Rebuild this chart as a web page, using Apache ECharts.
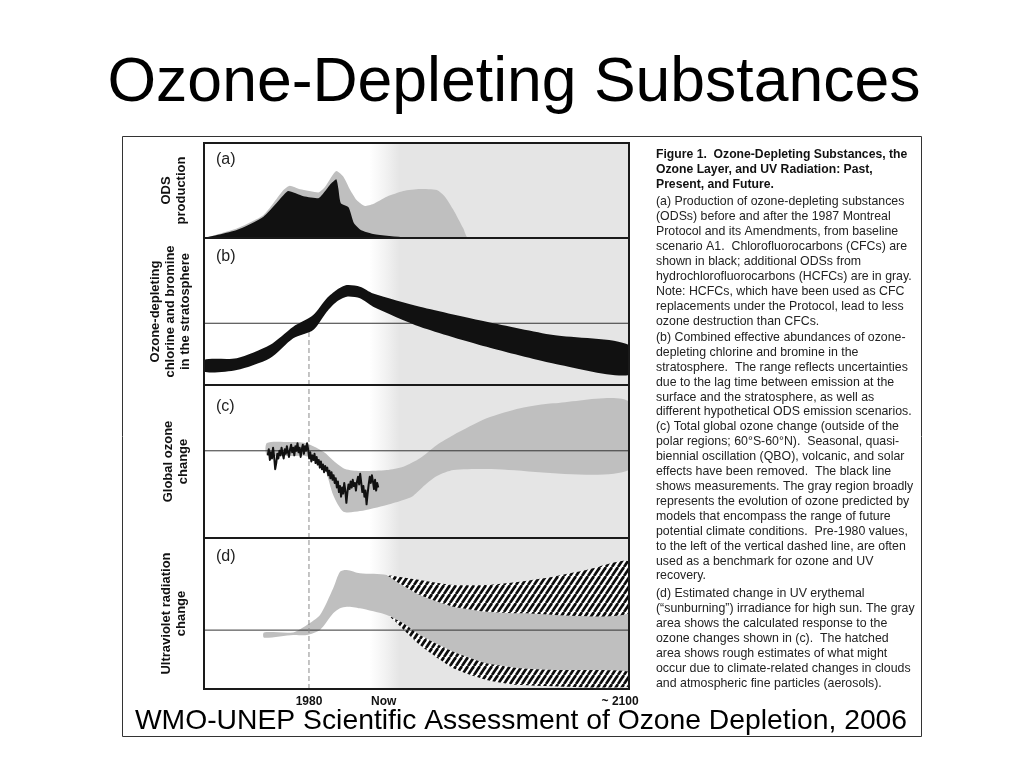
<!DOCTYPE html>
<html><head><meta charset="utf-8">
<script src="https://cdn.jsdelivr.net/npm/echarts@6/dist/echarts.min.js"></script>
<style>html,body{margin:0;padding:0;background:#fff}#c{width:1024px;height:768px}</style>
</head><body><div id="c"></div>
<script>
// ---------- DATA (x = schematic time index 0..100, y = relative units 0..100) ----------
const xTickValues = [24.7, 42.3, 97.9];
const xTickLabels = ['1980', 'Now', '~ 2100'];
const year1980 = 24.7;
const futureShadeStart = 39, futureShadeFull = 46;

// (a) ODS production
const odsTotal = [[0,0],[7.7,10],[14,24.2],[18.7,50.5],[20.2,55],[22.6,51.2],[26.9,48],[28.5,54],[31.2,70.5],[32.8,64.5],[34.4,50.5],[35.9,40],[37.9,33.7],[39.8,35.8],[43,43.5],[46.9,49.5],[50.8,51.6],[54.8,50.5],[56.7,43.5],[58.7,29.5],[61,10.2],[62.2,0],[100,0]];
const odsCFC = [[0,0],[7.7,8.4],[14,22.4],[19.1,47],[19.8,49.5],[23.4,44],[26.9,41.8],[28.1,47],[29.6,55.8],[31.1,61.8],[31.6,52.3],[32.2,36.5],[34,32.3],[35.3,15.4],[36.9,8.4],[39.8,4.2],[47.4,0.5],[50,0],[100,0]];

// (b) effective chlorine + bromine (range)
const halogenUpper = [[0,17],[7.7,18.2],[15.5,27.2],[21,39.7],[25.7,47.6],[28.9,59],[31.2,64.6],[33.6,68],[36.7,66.9],[39.8,62.3],[50.8,53.3],[66.5,43.1],[82.2,34],[100,27.2]];
const halogenLower = [[0,9],[7.7,10.2],[15.5,18.2],[21,31.8],[25.7,37.4],[28.9,49.9],[31.2,56.7],[33.6,60.1],[36.7,59],[39.8,53.3],[50.8,39.7],[66.5,26],[82.2,14.7],[100,6.8]];
const halogenRef = 42;

// (c) global ozone change
const ozoneModelUpper = [[14.8,62.1],[20.2,62.7],[23.8,62.1],[26.1,59.5],[28.5,55.6],[30.8,49.7],[33.2,45.1],[36.7,43.8],[43,44.4],[46.9,46.6],[50.8,52.1],[54.8,60.8],[58.7,67.3],[66.5,78.2],[74.4,84.8],[82.2,88],[100,89.1]];
const ozoneModelLower = [[14.8,54.2],[20.2,53.6],[23.8,53.6],[26.1,51],[28.5,44.4],[30.4,28.1],[32.8,17.2],[36.7,17.6],[43,21.6],[46.9,24.8],[49.2,27.5],[52,34.6],[54.8,40.5],[58.7,44.4],[66.5,45.1],[100,44.4]];
const ozoneObsX = [15.0,15.25,15.5,15.75,16.0,16.25,16.5,16.75,17.0,17.25,17.5,17.75,18.0,18.25,18.5,18.75,19.0,19.25,19.5,19.75,20.0,20.25,20.5,20.75,21.0,21.25,21.5,21.75,22.0,22.25,22.5,22.75,23.0,23.25,23.5,23.75,24.0,24.25,24.5,24.75,25.0,25.25,25.5,25.75,26.0,26.25,26.5,26.75,27.0,27.25,27.5,27.75,28.0,28.25,28.5,28.75,29.0,29.25,29.5,29.75,30.0,30.25,30.5,30.75,31.0,31.25,31.5,31.75,32.0,32.25,32.5,32.75,33.0,33.25,33.5,33.75,34.0,34.25,34.5,34.75,35.0,35.25,35.5,35.75,36.0,36.25,36.5,36.75,37.0,37.25,37.5,37.75,38.0,38.25,38.5,38.75,39.0,39.25,39.5,39.75,40.0,40.25,40.5,40.75,41.0];
const ozoneObs = [54,58,51,56,52,59,53,45,49,55,52,57,54,59,55,52,58,55,60,56,53,58,61,56,59,54,60,57,62,56,59,53,58,61,55,60,57,62,58,52,56,50,54,51,55,49,53,48,51,46,50,45,48,43,47,44,46,41,44,39,43,38,41,36,39,33,37,30,34,27,33,29,36,31,23,30,35,32,37,33,38,34,36,31,37,40,35,42,36,30,34,27,31,22,29,35,40,36,41,37,32,38,31,36,33];
const ozoneRef = 57;

// (d) UV change
const uvModelUpper = [[14.1,37.5],[21,37.5],[24.2,42.4],[27.3,49],[30.4,66.7],[32,77.7],[33.6,78.8],[36.7,76.6],[43,75.5],[45.3,71.1],[50.8,62.3],[58.7,54.5],[66.5,51.2],[74.4,50.1],[100,50.1]];
const uvModelLower = [[14.1,34],[21,35.8],[24.2,35.8],[27.3,39.1],[30.4,50.1],[32,53.4],[33.6,54.5],[36.7,53.4],[43,49],[46.9,43.5],[50.8,35.8],[58.7,24.7],[66.5,17],[74.4,13.7],[82.2,12.6],[100,11.5]];
const uvCloudHighTop = [[43,75.5],[50.8,72.2],[58.7,68.9],[66.5,68.9],[74.4,71.1],[82.2,74.4],[90,78.8],[100,84.3]];
const uvCloudHighBottom = [[43,75.5],[45.3,71.1],[50.8,62.3],[58.7,54.5],[66.5,51.2],[74.4,50.1],[100,50.1]];
const uvCloudLowTop = [[43.5,48.5],[46.9,43.5],[50.8,35.8],[58.7,24.7],[66.5,17],[74.4,13.7],[82.2,12.6],[100,11.5]];
const uvCloudLowBottom = [[43.5,48.5],[44.5,46],[50.8,29.1],[58.7,13.7],[66.5,6],[74.4,2.6],[100,1.5]];
const uvRef = 39;

const yNames = ['ODS\nproduction', 'Ozone-depleting\nchlorine and bromine\nin the stratosphere', 'Global ozone\nchange', 'Ultraviolet radiation\nchange'];
const panelTags = ['(a)', '(b)', '(c)', '(d)'];

const captionTitle = ['Figure 1.  Ozone-Depleting Substances, the', 'Ozone Layer, and UV Radiation: Past,', 'Present, and Future.'];
const captionParas = [
 ['(a) Production of ozone-depleting substances','(ODSs) before and after the 1987 Montreal','Protocol and its Amendments, from baseline','scenario A1.  Chlorofluorocarbons (CFCs) are','shown in black; additional ODSs from','hydrochlorofluorocarbons (HCFCs) are in gray.','Note: HCFCs, which have been used as CFC','replacements under the Protocol, lead to less','ozone destruction than CFCs.'],
 ['(b) Combined effective abundances of ozone-','depleting chlorine and bromine in the','stratosphere.  The range reflects uncertainties','due to the lag time between emission at the','surface and the stratosphere, as well as','different hypothetical ODS emission scenarios.'],
 ['(c) Total global ozone change (outside of the','polar regions; 60°S-60°N).  Seasonal, quasi-','biennial oscillation (QBO), volcanic, and solar','effects have been removed.  The black line','shows measurements. The gray region broadly','represents the evolution of ozone predicted by','models that encompass the range of future','potential climate conditions.  Pre-1980 values,','to the left of the vertical dashed line, are often','used as a benchmark for ozone and UV','recovery.'],
 ['(d) Estimated change in UV erythemal','(\u201csunburning\u201d) irradiance for high sun. The gray','area shows the calculated response to the','ozone changes shown in (c).  The hatched','area shows rough estimates of what might','occur due to climate-related changes in clouds','and atmospheric fine particles (aerosols).']
];

// ---------- LAYOUT / STYLE ----------
const FONT = '"Liberation Sans", Arial, Helvetica, sans-serif';
const GRAY = '#bfbfbf', SHADE = '#e5e5e5', BLACK = '#111';
const grids = [
  {left:204, top:143, width:425, height:95},
  {left:204, top:238, width:425, height:147},
  {left:204, top:385, width:425, height:153},
  {left:204, top:538, width:425, height:151}
];
const yGaps = [15, 11, 13, 15];

function makeHatch(){
  const w = 6, h = 9;
  const c = document.createElement('canvas'); c.width = w; c.height = h;
  const g = c.getContext('2d');
  g.fillStyle = '#fff'; g.fillRect(0,0,w,h);
  g.strokeStyle = '#0d0d0d'; g.lineWidth = 2.7;
  for (const dx of [-w,0,w]) { g.beginPath(); g.moveTo(dx,h); g.lineTo(dx+w,0); g.stroke(); }
  return c;
}
const hatchFill = {image: makeHatch(), repeat: 'repeat'};

function polySeries(gi, top, bottom, fill, z, smooth){
  return {type:'custom', xAxisIndex:gi, yAxisIndex:gi, z, clip:true, silent:true,
    data: top.concat(bottom),
    renderItem: (params, api) => {
      if (params.dataIndex !== 0) return null;
      const pts = top.map(p => api.coord(p)).concat(bottom.slice().reverse().map(p => api.coord(p)));
      return {type:'polygon', shape:{points:pts, smooth: smooth || 0}, style:{fill: fill, stroke: null}};
    }};
}
function shadeSeries(gi){
  return {type:'custom', xAxisIndex:gi, yAxisIndex:gi, z:1, silent:true, clip:true,
    data:[[futureShadeStart,0],[100,100]],
    renderItem:(params, api) => {
      if (params.dataIndex !== 0) return null;
      const a = api.coord([futureShadeStart,100]), b = api.coord([100,0]);
      const f = (futureShadeFull - futureShadeStart)/(100 - futureShadeStart);
      return {type:'rect', shape:{x:a[0], y:a[1], width:b[0]-a[0], height:b[1]-a[1]},
        style:{fill: new echarts.graphic.LinearGradient(0,0,1,0,[{offset:0,color:'#ffffff'},{offset:f*0.5,color:'#f3f3f3'},{offset:f,color:SHADE},{offset:1,color:SHADE}])}};
    }};
}
function frameSeries(gi){
  return {type:'custom', xAxisIndex:gi, yAxisIndex:gi, z:8, silent:true, clip:false,
    data:[[0,0],[100,100]],
    renderItem:(params, api) => {
      if (params.dataIndex !== 0) return null;
      const a = api.coord([0,100]), b = api.coord([100,0]);
      return {type:'rect', shape:{x:a[0], y:a[1], width:b[0]-a[0], height:b[1]-a[1]},
        style:{fill:null, stroke:'#1a1a1a', lineWidth:2}};
    }};
}
function hline(gi, v){
  return {type:'line', xAxisIndex:gi, yAxisIndex:gi, z:3, silent:true, symbol:'none',
    data:[[0,v],[100,v]], lineStyle:{color:'#333', width:1}};
}
function dashed(gi, y0, y1){
  return {type:'line', xAxisIndex:gi, yAxisIndex:gi, z:3, silent:true, symbol:'none',
    data:[[year1980,y0],[year1980,y1]], lineStyle:{color:'#8a8a8a', width:1, type:[5,3]}};
}

const xAxes = grids.map((g, i) => ({
  gridIndex:i, type:'value', min:0, max:100, show: i === 3,
  axisLine:{show:false}, axisTick:{show:false}, splitLine:{show:false},
  axisLabel: i === 3 ? {
    customValues: xTickValues,
    formatter: v => { let k = 0, d = 1e9; xTickValues.forEach((t, j) => { if (Math.abs(t - v) < d) { d = Math.abs(t - v); k = j; } }); return xTickLabels[k]; },
    fontFamily: FONT, fontWeight:'bold', fontSize:12, color:'#111', margin:7
  } : {show:false}
}));
const yAxes = grids.map((g, i) => ({
  gridIndex:i, type:'value', min:0, max:100,
  axisLine:{show:false}, axisTick:{show:false}, axisLabel:{show:false}, splitLine:{show:false},
  name: yNames[i], nameLocation:'middle', nameRotate:90, nameGap: yGaps[i],
  nameTextStyle:{fontFamily:FONT, fontWeight:'bold', fontSize:13, lineHeight:15, color:'#111', align:'center'}
}));

const series = [];
grids.forEach((g, i) => { series.push(shadeSeries(i)); series.push(frameSeries(i)); });
// (a)
series.push({type:'line', xAxisIndex:0, yAxisIndex:0, z:2, silent:true, symbol:'none', smooth:0.2,
  data: odsTotal, lineStyle:{width:0}, areaStyle:{color:GRAY, opacity:1}});
series.push({type:'line', xAxisIndex:0, yAxisIndex:0, z:4, silent:true, symbol:'none', smooth:0.2,
  data: odsCFC, lineStyle:{width:0}, areaStyle:{color:BLACK, opacity:1}});
// (b)
series.push(hline(1, halogenRef));
series.push(dashed(1, 0, 38));
series.push(polySeries(1, halogenUpper, halogenLower, BLACK, 4, 0.25));
// (c)
series.push(polySeries(2, ozoneModelUpper, ozoneModelLower, GRAY, 2, 0.25));
series.push(hline(2, ozoneRef));
series.push(dashed(2, 0, 100));
series.push({type:'line', xAxisIndex:2, yAxisIndex:2, z:4, silent:true, symbol:'none',
  data: ozoneObsX.map((x, k) => [x, ozoneObs[k]]), lineStyle:{color:BLACK, width:2, join:'round'}});
// (d)
series.push(polySeries(3, uvModelUpper, uvModelLower, GRAY, 2, 0.25));
series.push(polySeries(3, uvCloudHighTop, uvCloudHighBottom, hatchFill, 2, 0.2));
series.push(polySeries(3, uvCloudLowTop, uvCloudLowBottom, hatchFill, 2, 0.2));
series.push(hline(3, uvRef));
series.push(dashed(3, 0, 100));

// graphics: slide title, box, panel tags, caption, citation
const graphic = [
  {type:'rect', z:0, shape:{x:122.5, y:136.5, width:799, height:600}, style:{fill:'#fff', stroke:'#333', lineWidth:1}, silent:true},
  {type:'text', z:10, style:{text:'Ozone-Depleting Substances', x:514, y:84, textAlign:'center', textVerticalAlign:'middle', font:'62.5px ' + FONT, fill:'#000'}},
  {type:'text', z:10, style:{text:'WMO-UNEP Scientific Assessment of Ozone Depletion, 2006', x:521, y:721, textAlign:'center', textVerticalAlign:'middle', font:'28.3px ' + FONT, fill:'#000'}}
];
const tagY = [160, 256.5, 406.5, 556.5];
panelTags.forEach((t, i) => graphic.push({type:'text', z:10, style:{text:t, x:216, y:tagY[i], textVerticalAlign:'middle', font:'16px ' + FONT, fill:'#222'}}));
graphic.push({type:'text', z:10, style:{text:captionTitle.join('\n'), x:656, y:147, textVerticalAlign:'top', font:'bold 12.2px ' + FONT, lineHeight:15, fill:'#111'}});
const paraTop = [194.6, 330.1, 419.6, 586.4];
captionParas.forEach((p, i) => graphic.push({type:'text', z:10, style:{text:p.join('\n'), x:656, y:paraTop[i], textVerticalAlign:'top', font:'12.35px ' + FONT, lineHeight:14.9, fill:'#222'}}));

const chart = echarts.init(document.getElementById('c'), null, {renderer:'canvas'});
chart.setOption({
  animation:false, backgroundColor:'#fff',
  grid: grids.map(g => Object.assign({containLabel:false, show:false}, g)),
  xAxis: xAxes, yAxis: yAxes, series, graphic
});
</script></body></html>
